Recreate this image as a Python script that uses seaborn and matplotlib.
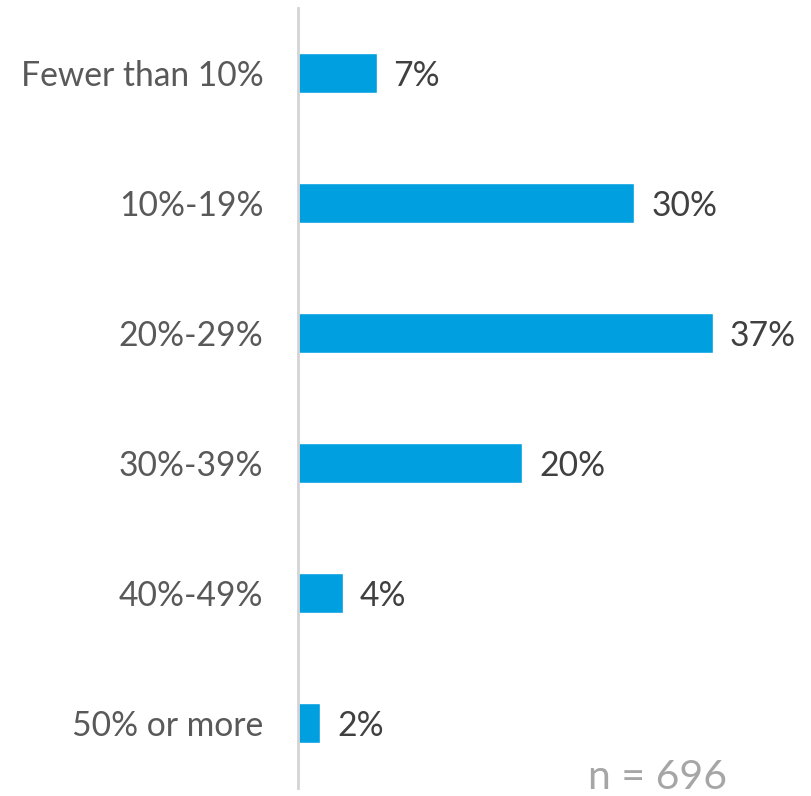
import matplotlib
matplotlib.use("Agg")
import matplotlib.pyplot as plt
import seaborn as sns
import pandas as pd

categories = ["Fewer than 10%", "10%-19%", "20%-29%", "30%-39%", "40%-49%", "50% or more"]
shares = [7, 30, 37, 20, 4, 2]
sample_note = "n = 696"

sns.set_theme(style="white")
plt.rcParams["font.family"] = ["Lato", "DejaVu Sans"]

df = pd.DataFrame({"category": categories, "share": shares})

fig = plt.figure(figsize=(8.12, 7.96), dpi=100)
ax = fig.add_axes([298 / 812, 8 / 796, 482 / 812, 780 / 796])

sns.barplot(data=df, x="share", y="category", order=categories,
            color="#009FE0", saturation=1, width=0.315, ax=ax)

ax.set_xlim(0, 37 * 482 / 415)
ax.set_ylim(5.5, -0.5)
ax.set_xlabel("")
ax.set_ylabel("")
ax.set_xticks([])

for side in ["top", "right", "bottom"]:
    ax.spines[side].set_visible(False)
ax.spines["left"].set_color("#D4D4D4")
ax.spines["left"].set_linewidth(2)

ax.tick_params(axis="y", length=0, pad=25, labelsize=24.2, labelcolor="#595959")
for lbl in ax.get_yticklabels():
    lbl.set_va("center_baseline")

for container in ax.containers:
    texts = ax.bar_label(container, labels=[f"{v}%" for v in shares], padding=12,
                         fontsize=24.2, color="#404040")
    for t in texts:
        t.set_va("center_baseline")

fig.text(727 / 812, 1 - 789 / 796, sample_note, ha="right", va="baseline",
         fontsize=29.5, color="#A6A6A6")

fig.savefig("out.png", dpi=100)
